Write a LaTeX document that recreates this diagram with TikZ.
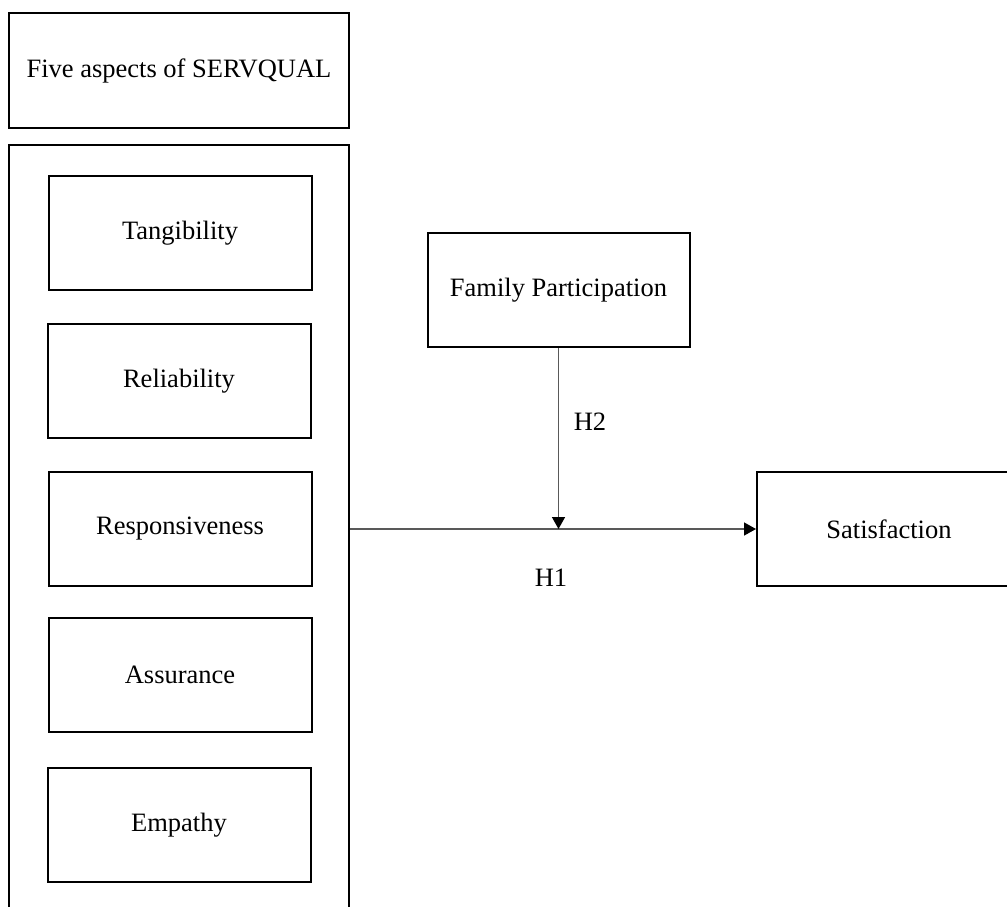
\documentclass[tikz,border=0pt]{standalone}
\usepackage{fontspec}
\setmainfont{Liberation Serif}
\usetikzlibrary{arrows.meta}
\definecolor{linegray}{HTML}{595959}
\tikzset{
  box/.style={draw=black, line width=2pt, fill=none, inner sep=0pt, font=\fontsize{26.5}{30}\selectfont},
  conn/.style={draw=linegray, line width=1.5pt, -{Triangle[length=12pt,width=13pt,color=black]}},
  lbl/.style={font=\fontsize{26.5}{30}\selectfont, inner sep=0pt}
}
\begin{document}
\begin{tikzpicture}[x=1pt,y=-1pt]
\clip (0,0) rectangle (1007,906);
\fill[white] (0,0) rectangle (1007,906);
% outer boxes
\node[box, minimum width=340pt, minimum height=115pt] (title) at (179,70.5) {Five aspects of SERVQUAL};
\node[box, minimum width=340pt, minimum height=790pt] (group) at (179,540) {};
% dimension boxes
\node[box, minimum width=263pt, minimum height=114pt] (tang) at (180,233) {Tangibility};
\node[box, minimum width=263pt, minimum height=114pt] (rel) at (179,381) {Reliability};
\node[box, minimum width=263pt, minimum height=114pt] (resp) at (180,529) {Responsiveness};
\node[box, minimum width=263pt, minimum height=114pt] (assu) at (180,675) {Assurance};
\node[box, minimum width=263pt, minimum height=114pt] (emp) at (179,825) {Empathy};
% right side
\node[box, minimum width=262pt, minimum height=114pt] (fam) at (558.5,290) {Family Participation};
\node[box, minimum width=264pt, minimum height=114pt, text width=264pt, align=center] (sat) at (889,529) {};
\node[lbl] (sattext) at (sat.center) {Satisfaction};
% connectors
\coordinate (start) at (group.east |- sat.west);
\coordinate (meet) at (fam.south |- sat.west);
\draw[conn] (start) -- (sat.west);
\draw[conn] (fam.south) -- (meet);
% labels
\node[lbl] (h2) at (590,422) {H2};
\node[lbl] (h1) at (551,578) {H1};
\end{tikzpicture}
\end{document}
